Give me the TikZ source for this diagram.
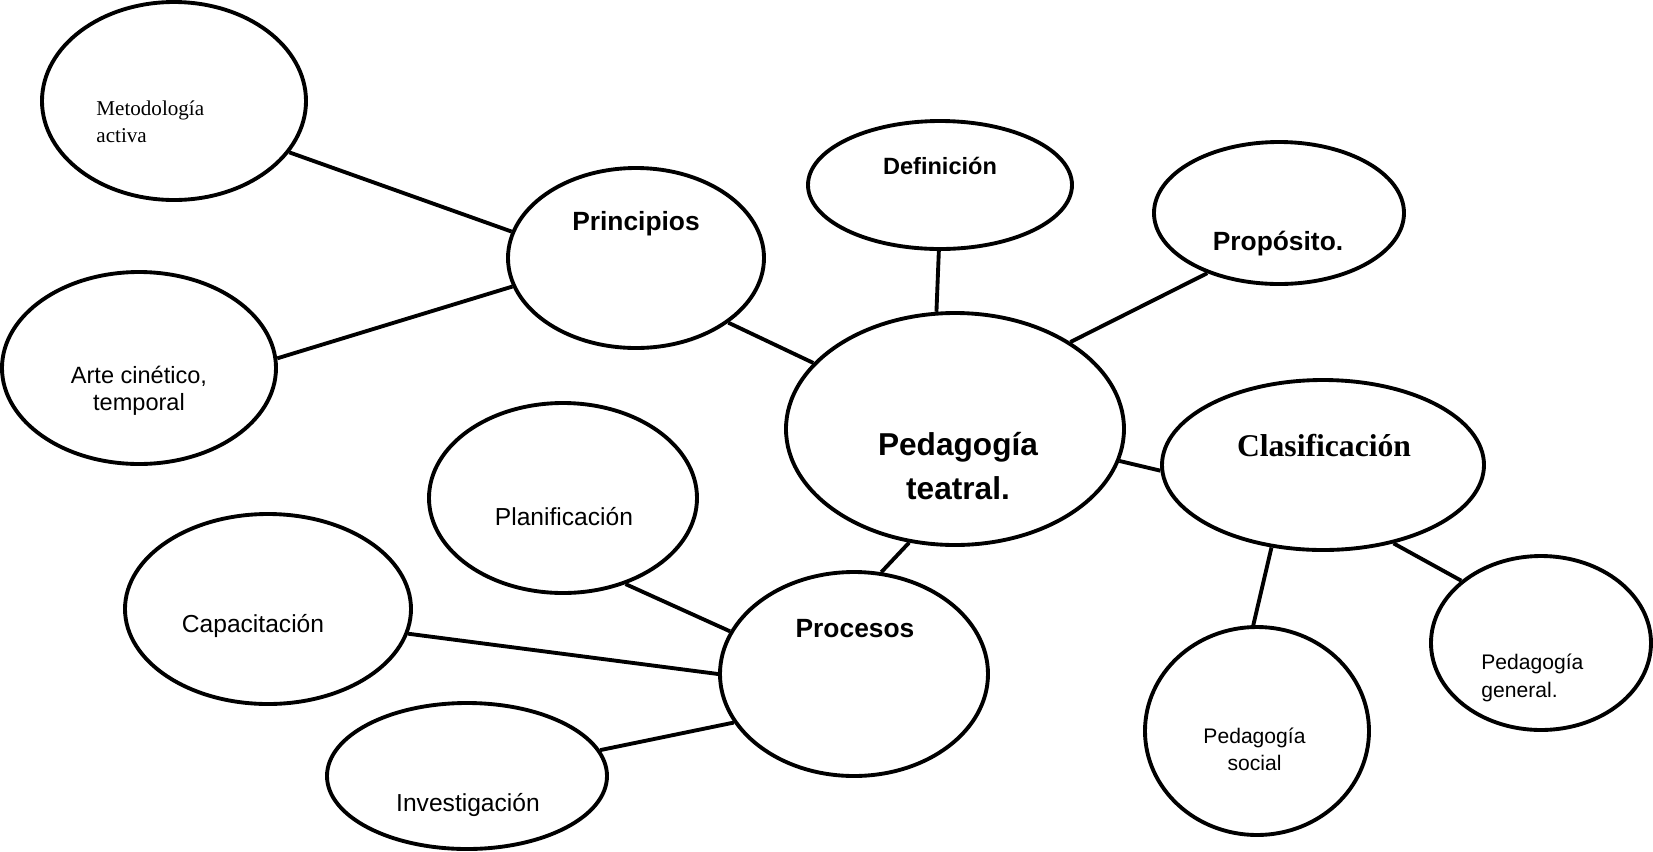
\documentclass[tikz,border=0pt]{standalone}
\usepackage{fontspec}
\setmainfont{Liberation Serif}
\setsansfont{Liberation Sans}
\usetikzlibrary{shapes.geometric}
\tikzstyle{bubble} = [ellipse, draw=black, line width=1.1pt, inner sep=0pt]
\tikzstyle{link} = [line width=1.1pt]
\tikzstyle{bigbold} = [font=\sffamily\bfseries\fontsize{9}{12.6}\selectfont, align=center]
\tikzstyle{midbold} = [font=\sffamily\bfseries\fontsize{7.5}{9}\selectfont, align=center]
\tikzstyle{serifbold} = [font=\rmfamily\bfseries\fontsize{9}{11}\selectfont, align=center]
\tikzstyle{plain} = [font=\sffamily\fontsize{7}{8}\selectfont, align=center]
\tikzstyle{small} = [font=\sffamily\fontsize{6}{7.8}\selectfont]
\tikzstyle{serifsmall} = [font=\rmfamily\fontsize{6}{7.8}\selectfont, align=left]

\begin{document}
\begin{tikzpicture}
    \useasboundingbox (0,0) rectangle (16.53,-8.51);

    % bubbles
    \node (meto) [bubble, minimum width=2.64cm, minimum height=1.98cm] at (1.74,-1.01) {};
    \node (princ) [bubble, minimum width=2.56cm, minimum height=1.80cm] at (6.36,-2.58) {};
    \node (arte) [bubble, minimum width=2.74cm, minimum height=1.92cm] at (1.39,-3.68) {};
    \node (defin) [bubble, minimum width=2.64cm, minimum height=1.28cm] at (9.40,-1.85) {};
    \node (propo) [bubble, minimum width=2.50cm, minimum height=1.42cm] at (12.79,-2.13) {};
    \node (ped) [bubble, minimum width=3.38cm, minimum height=2.32cm] at (9.55,-4.29) {};
    \node (clasif) [bubble, minimum width=3.22cm, minimum height=1.70cm] at (13.23,-4.65) {};
    \node (plan) [bubble, minimum width=2.68cm, minimum height=1.90cm] at (5.63,-4.98) {};
    \node (capac) [bubble, minimum width=2.86cm, minimum height=1.90cm] at (2.68,-6.09) {};
    \node (proc) [bubble, minimum width=2.68cm, minimum height=2.04cm] at (8.54,-6.74) {};
    \node (inves) [bubble, minimum width=2.80cm, minimum height=1.46cm] at (4.67,-7.76) {};
    \node (social) [bubble, minimum width=2.24cm, minimum height=2.08cm] at (12.57,-7.31) {};
    \node (general) [bubble, minimum width=2.20cm, minimum height=1.74cm] at (15.41,-6.43) {};

    % texts
    \node (meto_t) [serifsmall, anchor=west] at (0.84,-1.22) {Metodología\\activa};
    \node (arte_t) [plain, font=\sffamily\fontsize{6.7}{7.8}\selectfont] at (1.39,-3.91) {Arte cinético,\\temporal};
    \node (princ_t) [midbold] at (6.36,-2.235) {Principios};
    \node (defin_t) [midbold, font=\sffamily\bfseries\fontsize{6.7}{8}\selectfont] at (9.40,-1.655) {Definición};
    \node (propo_t) [midbold] at (12.78,-2.435) {Propósito.};
    \node (ped_t) [bigbold] at (9.58,-4.66) {Pedagogía\\teatral.};
    \node (clasif_t) [serifbold] at (13.24,-4.46) {Clasificación};
    \node (plan_t) [plain] at (5.64,-5.165) {Planificación};
    \node (capac_t) [plain] at (2.53,-6.26) {Capacitación};
    \node (proc_t) [midbold] at (8.55,-6.29) {Procesos};
    \node (inves_t) [plain] at (4.68,-8.05) {Investigación};
    \node (social_t) [small, align=center] at (12.545,-7.495) {Pedagogía\\social};
    \node (general_t) [small, align=left, anchor=west] at (14.69,-6.78) {Pedagogía\\general.};

    % connectors
    \draw [link] (meto.-24) -- (princ.168);
    \draw [link] (arte.4) -- (princ.-167);
    \draw [link] (princ.-35) -- (ped.155);
    \draw [link] (defin.-91) -- (ped.99);
    \draw [link] (propo.-140) -- (ped.37);
    \draw [link] (ped.-11) -- (clasif.-178);
    \draw [link] (ped.-112) -- (proc.75);
    \draw [link] (plan.-54) -- (proc.161);
    \draw [link] (capac.-10) -- (proc.180);
    \draw [link] (inves.11) -- (proc.-158);
    \draw [link] (clasif.-122) -- (social.92);
    \draw [link] (clasif.-48) -- (general.142);
\end{tikzpicture}
\end{document}
